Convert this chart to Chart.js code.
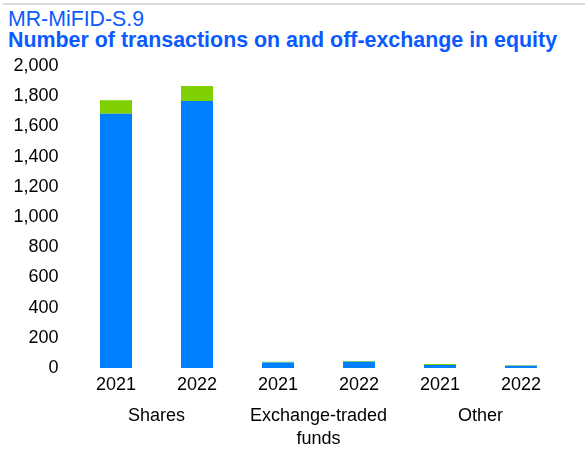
<!DOCTYPE html>
<html>
<head>
<meta charset="utf-8">
<script src="https://cdn.jsdelivr.net/npm/chart.js@4"></script>
<style>
    html, body { margin: 0; padding: 0; background: #fff; }
    #wrap { position: relative; width: 585px; height: 451px; overflow: hidden; font-family: "Liberation Sans", Arial, sans-serif; }
    #rule { position: absolute; left: 3px; right: 0; top: 3px; height: 2px; background: #d9d9d9; }
    #code { position: absolute; left: 8px; top: 7px; font-size: 21.3px; line-height: 24px; color: #0a5aff; white-space: nowrap; }
    #title { position: absolute; left: 8px; top: 28px; font-size: 21.4px; line-height: 24px; font-weight: bold; color: #0a5aff; white-space: nowrap; }
    #chart-box { position: absolute; left: 0; top: 0; width: 585px; height: 451px; }
</style>
</head>
<body>
<div id="wrap">
    <div id="rule"></div>
    <div id="code">MR-MiFID-S.9</div>
    <div id="title">Number of transactions on and off-exchange in equity</div>
    <div id="chart-box"><canvas id="transactionsChart" width="585" height="451"></canvas></div>
</div>
<script>
const years = ['2021', '2022', '2021', '2022', '2021', '2022'];
const groups = ['Shares', ['Exchange-traded', 'funds'], 'Other'];
const onExchange = [1684, 1768, 36, 42, 20, 15];
const offExchange = [90, 99, 6, 4, 6, 3];
const yTicks = [0, 200, 400, 600, 800, 1000, 1200, 1400, 1600, 1800, 2000];

const font = { family: '"Liberation Sans", Arial, sans-serif', size: 18 };

const ctx = document.getElementById('transactionsChart').getContext('2d');

new Chart(ctx, {
    type: 'bar',
    data: {
        labels: years,
        datasets: [
            {
                label: 'On exchange',
                data: onExchange,
                backgroundColor: '#0080ff',
                borderWidth: 0,
                barPercentage: 0.395,
                categoryPercentage: 1,
            },
            {
                label: 'Off exchange',
                data: offExchange,
                backgroundColor: '#7fd000',
                borderWidth: 0,
                barPercentage: 0.395,
                categoryPercentage: 1,
            },
        ],
    },
    options: {
        responsive: false,
        animation: false,
        layout: {
            padding: { top: 66, right: 23.5, left: 0, bottom: 0 },
        },
        plugins: {
            legend: { display: false },
            tooltip: { enabled: false },
        },
        scales: {
            x: {
                stacked: true,
                grid: { display: false, drawTicks: false },
                border: { display: false },
                ticks: { color: '#000', font: font, padding: 6, maxRotation: 0 },
                afterFit(scale) {
                    scale.height = 27;
                },
            },
            x2: {
                type: 'category',
                labels: groups,
                position: 'bottom',
                offset: true,
                grid: { display: false, drawTicks: false },
                border: { display: false },
                ticks: { color: '#000', font: { ...font, lineHeight: 1.3 }, padding: 9, maxRotation: 0 },
                afterFit(scale) {
                    scale.height = 56;
                },
            },
            y: {
                stacked: true,
                min: 0,
                max: 2000,
                afterBuildTicks(scale) {
                    scale.ticks = yTicks.map((v) => ({ value: v }));
                },
                afterFit(scale) {
                    scale.width = 75.5;
                },
                grid: { display: false, drawTicks: false },
                border: { display: false },
                ticks: {
                    color: '#000',
                    font: font,
                    padding: 17,
                    callback: (value) => value.toLocaleString('en-US'),
                },
            },
        },
    },
});
</script>
</body>
</html>
